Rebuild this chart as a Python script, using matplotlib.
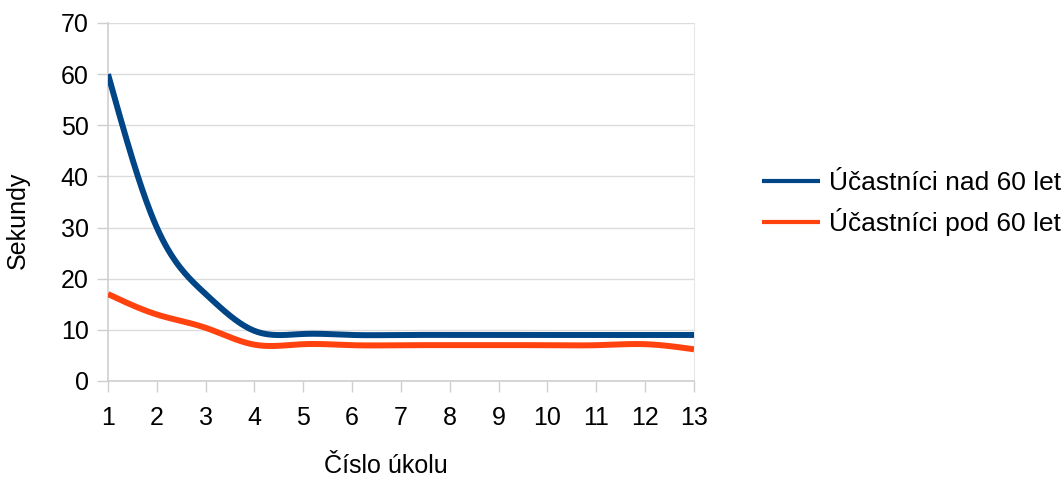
import matplotlib
matplotlib.use("Agg")
import matplotlib.pyplot as plt
import numpy as np

plt.rcParams['font.family'] = ['Liberation Sans', 'DejaVu Sans']

# task numbers and mean solving time in seconds
tasks = np.arange(1, 14)
over_60 = [60, 30, 17, 9.8, 9.2, 9, 9, 9, 9, 9, 9, 9, 9]
under_60 = [17, 13, 10.4, 7.1, 7.2, 7, 7, 7, 7, 7, 7, 7.2, 6.2]
labels = ["Účastníci nad 60 let", "Účastníci pod 60 let"]
colors = ["#004586", "#ff420e"]


def natural_spline(x, y, n=400):
    # natural cubic spline through the points, used to draw smooth lines
    x = np.asarray(x, float)
    y = np.asarray(y, float)
    k = len(x)
    h = np.diff(x)
    A = np.zeros((k, k))
    b = np.zeros(k)
    A[0, 0] = A[-1, -1] = 1
    for i in range(1, k - 1):
        A[i, i - 1] = h[i - 1]
        A[i, i] = 2 * (h[i - 1] + h[i])
        A[i, i + 1] = h[i]
        b[i] = 6 * ((y[i + 1] - y[i]) / h[i] - (y[i] - y[i - 1]) / h[i - 1])
    m = np.linalg.solve(A, b)
    xs = np.linspace(x[0], x[-1], n)
    idx = np.clip(np.searchsorted(x, xs) - 1, 0, k - 2)
    x0, x1 = x[idx], x[idx + 1]
    hh = x1 - x0
    t0, t1 = x1 - xs, xs - x0
    ys = (m[idx] * t0**3 + m[idx + 1] * t1**3) / (6 * hh) \
        + (y[idx] / hh - m[idx] * hh / 6) * t0 \
        + (y[idx + 1] / hh - m[idx + 1] * hh / 6) * t1
    return xs, ys


fig = plt.figure(figsize=(10.62, 4.78), dpi=100)
ax = fig.add_axes([108 / 1062, 1 - 381 / 478, (694 - 108) / 1062, (381 - 23) / 478])

for series, lab, col in zip([over_60, under_60], labels, colors):
    xs, ys = natural_spline(tasks, series)
    ax.plot(xs, ys, color=col, lw=4.3, label=lab, solid_capstyle='butt', zorder=3)

ax.set_xlim(1, 13)
ax.set_ylim(0, 70)
ax.set_xticks(tasks)
ax.set_yticks(range(0, 71, 10))
ax.grid(axis='y', color='#dcdcdc', lw=1)
ax.set_axisbelow(True)
for side in ['left', 'bottom']:
    ax.spines[side].set_color('#cfcfcf')
    ax.spines[side].set_linewidth(1.2)
ax.spines['top'].set_visible(False)
ax.spines['right'].set_color('#e6e6e6')
ax.tick_params(axis='both', color='#cfcfcf', length=8, width=1, labelsize=18,
               labelcolor='black')
ax.tick_params(axis='x', pad=10)
ax.tick_params(axis='y', pad=6)

fig.text(386 / 1062, 1 - 466 / 478, "Číslo úkolu", fontsize=18, ha='center', va='center')
fig.text(18 / 1062, 1 - 220 / 478, "Sekundy", fontsize=18, ha='center', va='center',
         rotation=90)

handles, labs = ax.get_legend_handles_labels()
leg = fig.legend(handles, labs, loc='center left', bbox_to_anchor=(762 / 1062, 1 - 203.5 / 478),
                 frameon=False, fontsize=19, handlelength=2.2, handletextpad=0.35,
                 labelspacing=0.5, borderpad=0, borderaxespad=0)
for line in leg.get_lines():
    line.set_linewidth(3)

fig.savefig("out.png", dpi=100)
